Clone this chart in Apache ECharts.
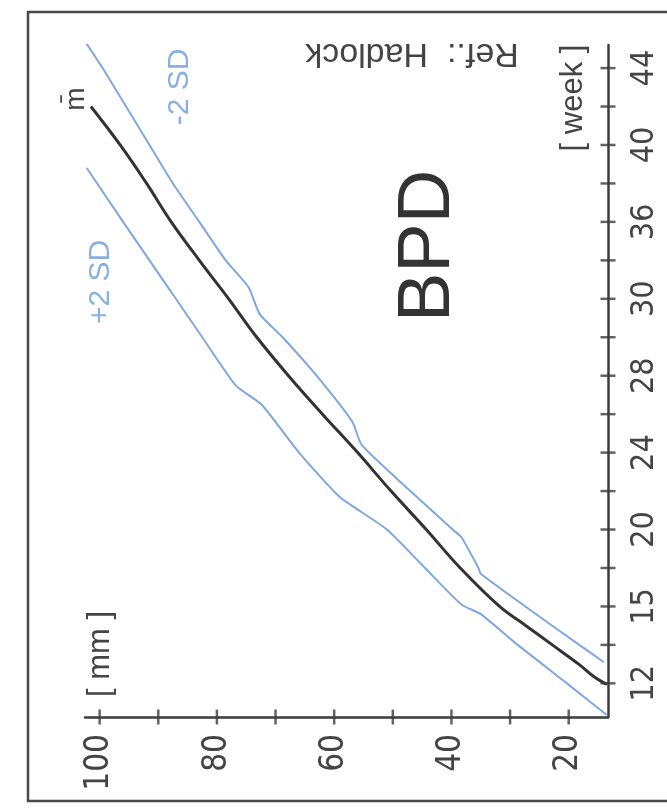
<!DOCTYPE html>
<html>
<head>
<meta charset="utf-8">
<script src="https://cdn.jsdelivr.net/npm/echarts@6/dist/echarts.min.js"></script>
<style>
html,body{margin:0;padding:0;background:#fff;}
#c{width:667px;height:808px;}
</style>
</head>
<body>
<div id="c"></div>
<script>
// ---- data (week, BPD mm) ----
var meanWeeks = [11.95, 12.3, 13, 14, 15, 16, 18, 20, 22, 24, 26, 28, 30, 32, 34, 36, 38, 40, 42];
var meanMM    = [13.5, 15.5, 18.3, 22.8, 27.3, 31.8, 38.5, 44.3, 50.3, 56, 62, 67.8, 73.2, 78, 83, 87.8, 92, 96.5, 101.5];

var plusWeeks = [10.35, 12, 14, 15.6, 16.1, 18, 20, 20.9, 21.7, 24, 26.5, 27.5, 30, 32, 34, 36, 38.8];
var plusMM    = [13.5, 20.3, 28.7, 35, 38.3, 44.5, 51, 55.3, 59.1, 66, 72.4, 76.8, 82.5, 87, 91.5, 96, 102.2];

var minusWeeks = [13.1, 14, 16, 17.7, 18.0, 19.6, 20, 22, 24.4, 25.6, 28, 30, 31.2, 32.6, 34, 36, 38, 40, 42, 44, 45.3];
var minusMM    = [14, 18.2, 27.4, 35, 35.4, 38.3, 39.8, 47, 55.3, 56.9, 63, 68.8, 72.7, 74.6, 78.5, 83, 87.5, 91.5, 95.5, 99.5, 102.3];

var mmTickValues = [20, 30, 40, 50, 60, 70, 80, 90, 100];
var mmLabelValues = [20, 40, 60, 80, 100];
var weekTickValues = [12, 14, 16, 18, 20, 22, 24, 26, 28, 30, 32, 34, 36, 38, 40, 42, 44];
var weekLabelValues = [12, 16, 20, 24, 28, 32, 36, 40, 44];
var weekLabelTexts = ['12', '15', '20', '24', '28', '30', '36', '40', '44'];

var MM_MIN = 13.3, MM_MAX = 102.5, WK_MIN = 10.25, WK_MAX = 45.2;

function pairs(weeks, mm) {
  return weeks.map(function (w, i) { return [mm[i], w]; });
}

var AX = '#3c3c3c';
var BLUE = '#7fa8de';
var BLUE_TXT = '#88b0e2';
var FONT = "'Liberation Sans Narrow','DejaVu Sans Condensed','Liberation Sans',sans-serif";
var FONT2 = "'Liberation Sans',Arial,sans-serif";

var chart = echarts.init(document.getElementById('c'), null, {renderer: 'canvas'});

function txt(x, y, text, size, rot, color, font) {
  return {type: 'text', x: x, y: y, rotation: rot, z: 10,
    style: {text: text, fontSize: size, fontFamily: font || FONT2, fill: color || '#444',
      textAlign: 'center', textVerticalAlign: 'middle'}};
}

var option = {
  animation: false,
  backgroundColor: '#fff',
  grid: {left: 85, right: 59, top: 45, bottom: 91},
  xAxis: {
    type: 'value', position: 'bottom', inverse: true,
    min: MM_MIN, max: MM_MAX,
    axisLine: {show: true, onZero: false, lineStyle: {color: AX, width: 2.5}},
    axisTick: {show: false},
    axisLabel: {show: true, customValues: mmLabelValues, rotate: 90, margin: 17,
      fontSize: 33, fontFamily: FONT, color: '#444'},
    splitLine: {show: false}
  },
  yAxis: {
    type: 'value', position: 'right',
    min: WK_MIN, max: WK_MAX,
    axisLine: {show: true, onZero: false, lineStyle: {color: AX, width: 2.5}},
    axisTick: {show: false},
    axisLabel: {show: true, customValues: weekLabelValues, rotate: 90, margin: 21,
      fontSize: 32, fontFamily: FONT, color: '#444',
      formatter: function (v) { var i = weekLabelValues.indexOf(Math.round(v)); return i >= 0 ? weekLabelTexts[i] : ''; }},
    splitLine: {show: false}
  },
  series: [
    {type: 'line', name: '+2 SD', data: pairs(plusWeeks, plusMM),
      showSymbol: false, smooth: 0.2, lineStyle: {color: BLUE, width: 2}},
    {type: 'line', name: '-2 SD', data: pairs(minusWeeks, minusMM),
      showSymbol: false, smooth: 0.2, lineStyle: {color: BLUE, width: 2}},
    {type: 'line', name: 'mean', data: pairs(meanWeeks, meanMM),
      showSymbol: false, smooth: 0.4, lineStyle: {color: '#333', width: 3}},
    // cross-shaped tick marks on the mm axis
    {type: 'scatter', name: 'mmTicks', silent: true, clip: false, z: 5,
      data: mmTickValues.map(function (v) { return [v, WK_MIN]; }),
      symbol: 'rect', symbolSize: [2.5, 15], itemStyle: {color: AX}},
    // cross-shaped tick marks on the week axis
    {type: 'scatter', name: 'weekTicks', silent: true, clip: false, z: 5,
      data: weekTickValues.map(function (v) { return [MM_MIN, v]; }),
      symbol: 'rect', symbolSize: [15, 2.5], itemStyle: {color: AX}}
  ],
  graphic: [
    {type: 'rect', shape: {x: 28, y: 12, width: 700, height: 789}, z: -1,
      style: {fill: null, stroke: '#4a4a4a', lineWidth: 2.5}},
    txt(429, 246, 'BPD', 74, Math.PI / 2, '#333'),
    txt(100, 654, '[ mm ]', 31, Math.PI / 2, '#444'),
    txt(573, 98, '[ week ]', 31, Math.PI / 2, '#444'),
    txt(412, 53, 'Ref.:  Hadlock', 34, Math.PI, '#444'),
    txt(101, 282, '+2 SD', 30, Math.PI / 2, BLUE_TXT),
    txt(180, 87, '-2 SD', 30, Math.PI / 2, BLUE_TXT),
    txt(76, 99, 'm\u0304', 28, Math.PI / 2, '#444')
  ]
};
chart.setOption(option);
</script>
</body>
</html>
